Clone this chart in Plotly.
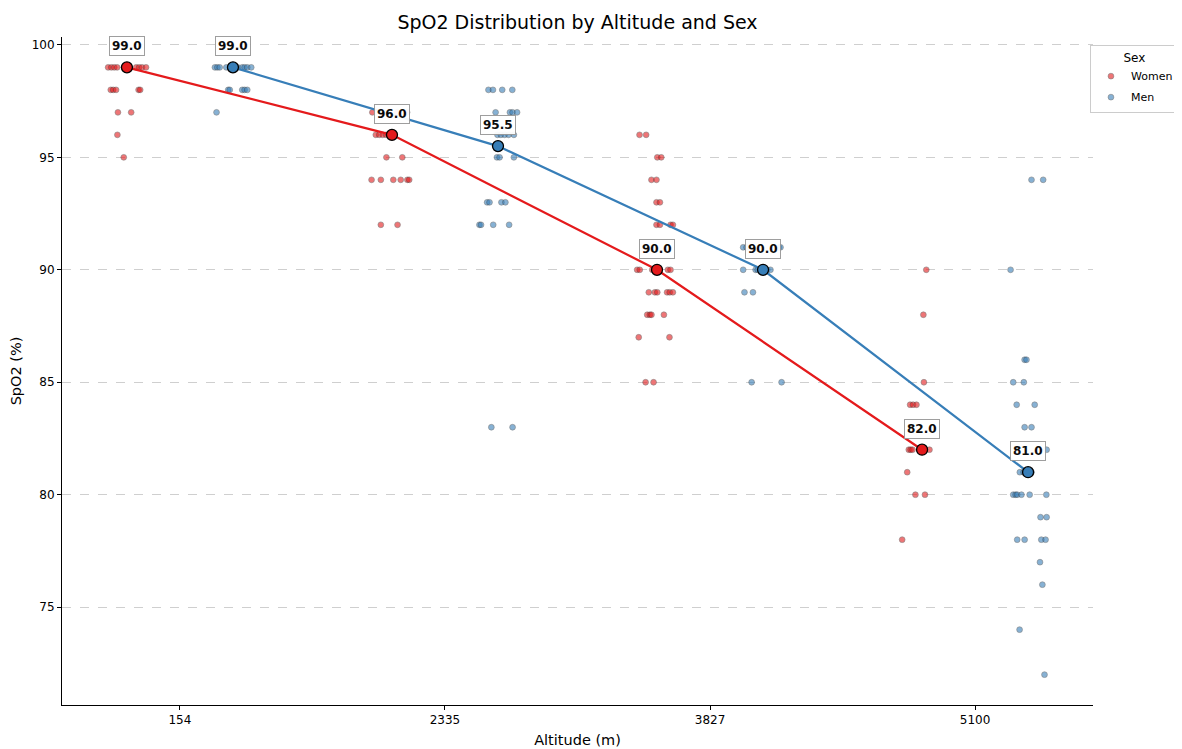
import plotly.graph_objects as go

# ---------------- data ----------------
altitudes = ["154", "2335", "3827", "5100"]
sexes = ["Women", "Men"]

median_women = [99.0, 96.0, 90.0, 82.0]
median_men = [99.0, 95.5, 90.0, 81.0]

# individual SpO2 readings per group, with the horizontal jitter
women_154 = [99]*10 + [98]*5 + [97]*2 + [96] + [95]
women_154_jitter = [-0.071, -0.059, -0.048, -0.037, -0.011, 0.008, 0.035, 0.046, 0.057, 0.072,
                    -0.061, -0.052, -0.041, 0.044, 0.050,
                    -0.034, 0.016, -0.036, -0.012]

men_154 = [99]*10 + [98]*5 + [97]
men_154_jitter = [-0.068, -0.059, -0.050, -0.025, -0.005, 0.018, 0.035, 0.044, 0.054, 0.069,
                  -0.018, -0.012, 0.035, 0.044, 0.054,
                  -0.062]

women_2335 = [97]*4 + [96]*8 + [95]*2 + [94]*6 + [92]*2
women_2335_jitter = [-0.074, -0.033, 0.020, 0.057,
                     -0.061, -0.048, -0.035, -0.022, -0.012, -0.007, 0.001, 0.010,
                     -0.021, 0.039,
                     -0.077, -0.042, 0.005, 0.033, 0.058, 0.065,
                     -0.042, 0.021]

men_2335 = [98]*4 + [97]*4 + [96]*5 + [95]*3 + [93]*4 + [92]*4 + [83]*2
men_2335_jitter = [-0.036, -0.019, 0.016, 0.054,
                   -0.009, 0.045, 0.055, 0.072,
                   -0.002, 0.011, 0.025, 0.040, 0.060,
                   -0.004, 0.006, 0.060,
                   -0.041, -0.032, 0.013, 0.028,
                   -0.070, -0.064, -0.018, 0.042,
                   -0.025, 0.055]

women_3827 = [96]*2 + [95]*2 + [94]*2 + [93]*2 + [92]*4 + [90]*6 + [89]*6 + [88]*4 + [87]*2 + [85]*2
women_3827_jitter = [-0.066, -0.041,
                     0.001, 0.016,
                     -0.021, -0.002,
                     -0.002, 0.011,
                     -0.002, 0.011, 0.051, 0.060,
                     -0.075, -0.065, -0.018, -0.002, 0.041, 0.051,
                     -0.031, -0.008, 0.001, 0.038, 0.048, 0.060,
                     -0.037, -0.027, -0.021, 0.026,
                     -0.069, 0.047,
                     -0.043, -0.013]

men_3827 = [91]*4 + [90]*6 + [89]*2 + [85]*2
men_3827_jitter = [-0.075, -0.062, 0.060, 0.066,
                   -0.075, -0.028, -0.020, -0.002, 0.016, 0.028,
                   -0.070, -0.038,
                   -0.043, 0.070]

women_5100 = [90, 88, 85] + [84]*3 + [82]*5 + [81] + [80]*2 + [78]
women_5100_jitter = [0.016, 0.005, 0.007,
                     -0.045, -0.034, -0.021,
                     -0.050, -0.043, -0.036, -0.002, 0.028,
                     -0.056,
                     -0.025, 0.011,
                     -0.075]

men_5100 = ([94]*2 + [90] + [86]*2 + [85]*2 + [84]*2 + [83]*2 + [82] + [81]*5 + [80]*6
            + [79]*2 + [78]*4 + [77, 76, 74, 72])
men_5100_jitter = [0.013, 0.057,
                   -0.066,
                   -0.013, -0.006,
                   -0.056, -0.016,
                   -0.043, 0.025,
                   -0.013, 0.013,
                   0.070,
                   -0.031, -0.017, -0.003, 0.006, 0.013,
                   -0.056, -0.047, -0.041, -0.025, 0.006, 0.069,
                   0.047, 0.070,
                   -0.041, -0.013, 0.050, 0.066,
                   0.045, 0.054, -0.032, 0.062]

women_groups = [(women_154, women_154_jitter), (women_2335, women_2335_jitter),
                (women_3827, women_3827_jitter), (women_5100, women_5100_jitter)]
men_groups = [(men_154, men_154_jitter), (men_2335, men_2335_jitter),
              (men_3827, men_3827_jitter), (men_5100, men_5100_jitter)]

# ---------------- style ----------------
RED = "#e41a1c"
BLUE = "#377eb8"
FONT = "DejaVu Sans"
DODGE = 0.2

fig = go.Figure()

def add_points(groups, offset, color, name):
    xs, ys = [], []
    for i, (vals, jit) in enumerate(groups):
        for v, j in zip(vals, jit):
            xs.append(i + offset + j)
            ys.append(v)
    fig.add_trace(go.Scatter(
        x=xs, y=ys, mode="markers", name=name, legendgroup=name,
        marker=dict(size=5.8, color=color, opacity=0.6,
                    line=dict(color="#333333", width=0.6)),
        hoverinfo="skip"))

add_points(women_groups, -DODGE, RED, "Women")
add_points(men_groups, DODGE, BLUE, "Men")

def add_median(meds, offset, color, name):
    xs = [i + offset for i in range(len(meds))]
    fig.add_trace(go.Scatter(
        x=xs, y=meds, mode="lines+markers", showlegend=False, legendgroup=name,
        line=dict(color=color, width=2.2),
        marker=dict(size=11, color=color, line=dict(color="black", width=1.3)),
        hoverinfo="skip"))
    for xv, m in zip(xs, meds):
        fig.add_annotation(
            x=xv, y=m, text=f"<b>{m:.1f}</b>", showarrow=False, yshift=21,
            font=dict(family=FONT, size=12, color="black"),
            bgcolor="white", bordercolor="#999999", borderwidth=1, borderpad=2,
            opacity=0.95)

add_median(median_women, -DODGE, RED, "Women")
add_median(median_men, DODGE, BLUE, "Men")

# the page places the figure 8 px from the window's top-left corner
W, H = 1174, 741
fig.update_layout(
    width=W, height=H,
    paper_bgcolor="white", plot_bgcolor="white",
    margin=dict(l=54, r=89, t=29, b=44, autoexpand=False),
    font=dict(family=FONT, size=12, color="black"),
    title=dict(text="SpO2 Distribution by Altitude and Sex", x=0.4851, xanchor="center",
               xref="container", yref="container",
               y=0.981, yanchor="middle", font=dict(family=FONT, size=19, color="black")),
    legend=dict(xref="container", yref="container", x=0.9216, y=0.950,
                xanchor="left", yanchor="top",
                title=dict(text="Sex", side="top center", font=dict(family=FONT, size=12)),
                font=dict(family=FONT, size=11),
                bordercolor="#cccccc", borderwidth=1, bgcolor="white",
                itemsizing="trace", itemwidth=30, tracegroupgap=2),
    showlegend=True,
)

fig.update_xaxes(
    range=[-0.445, 3.445], tickmode="array", tickvals=list(range(len(altitudes))),
    ticktext=altitudes, showgrid=False, zeroline=False, automargin=False,
    showline=True, linecolor="black", linewidth=1,
    ticks="outside", ticklen=4, tickcolor="black", tickfont=dict(size=12),
    title=dict(text="Altitude (m)", font=dict(family=FONT, size=14.5), standoff=8),
)
fig.update_yaxes(
    range=[70.65, 100.35], tickmode="array", tickvals=[75, 80, 85, 90, 95, 100],
    showgrid=True, gridcolor="#cfcfcf", griddash="dash", gridwidth=0.8, zeroline=False,
    automargin=False,
    showline=True, linecolor="black", linewidth=1,
    ticks="outside", ticklen=4, tickcolor="black", tickfont=dict(size=12),
    title=dict(text="SpO2 (%)", font=dict(family=FONT, size=14.5), standoff=8),
)

fig.write_html("out.html")
